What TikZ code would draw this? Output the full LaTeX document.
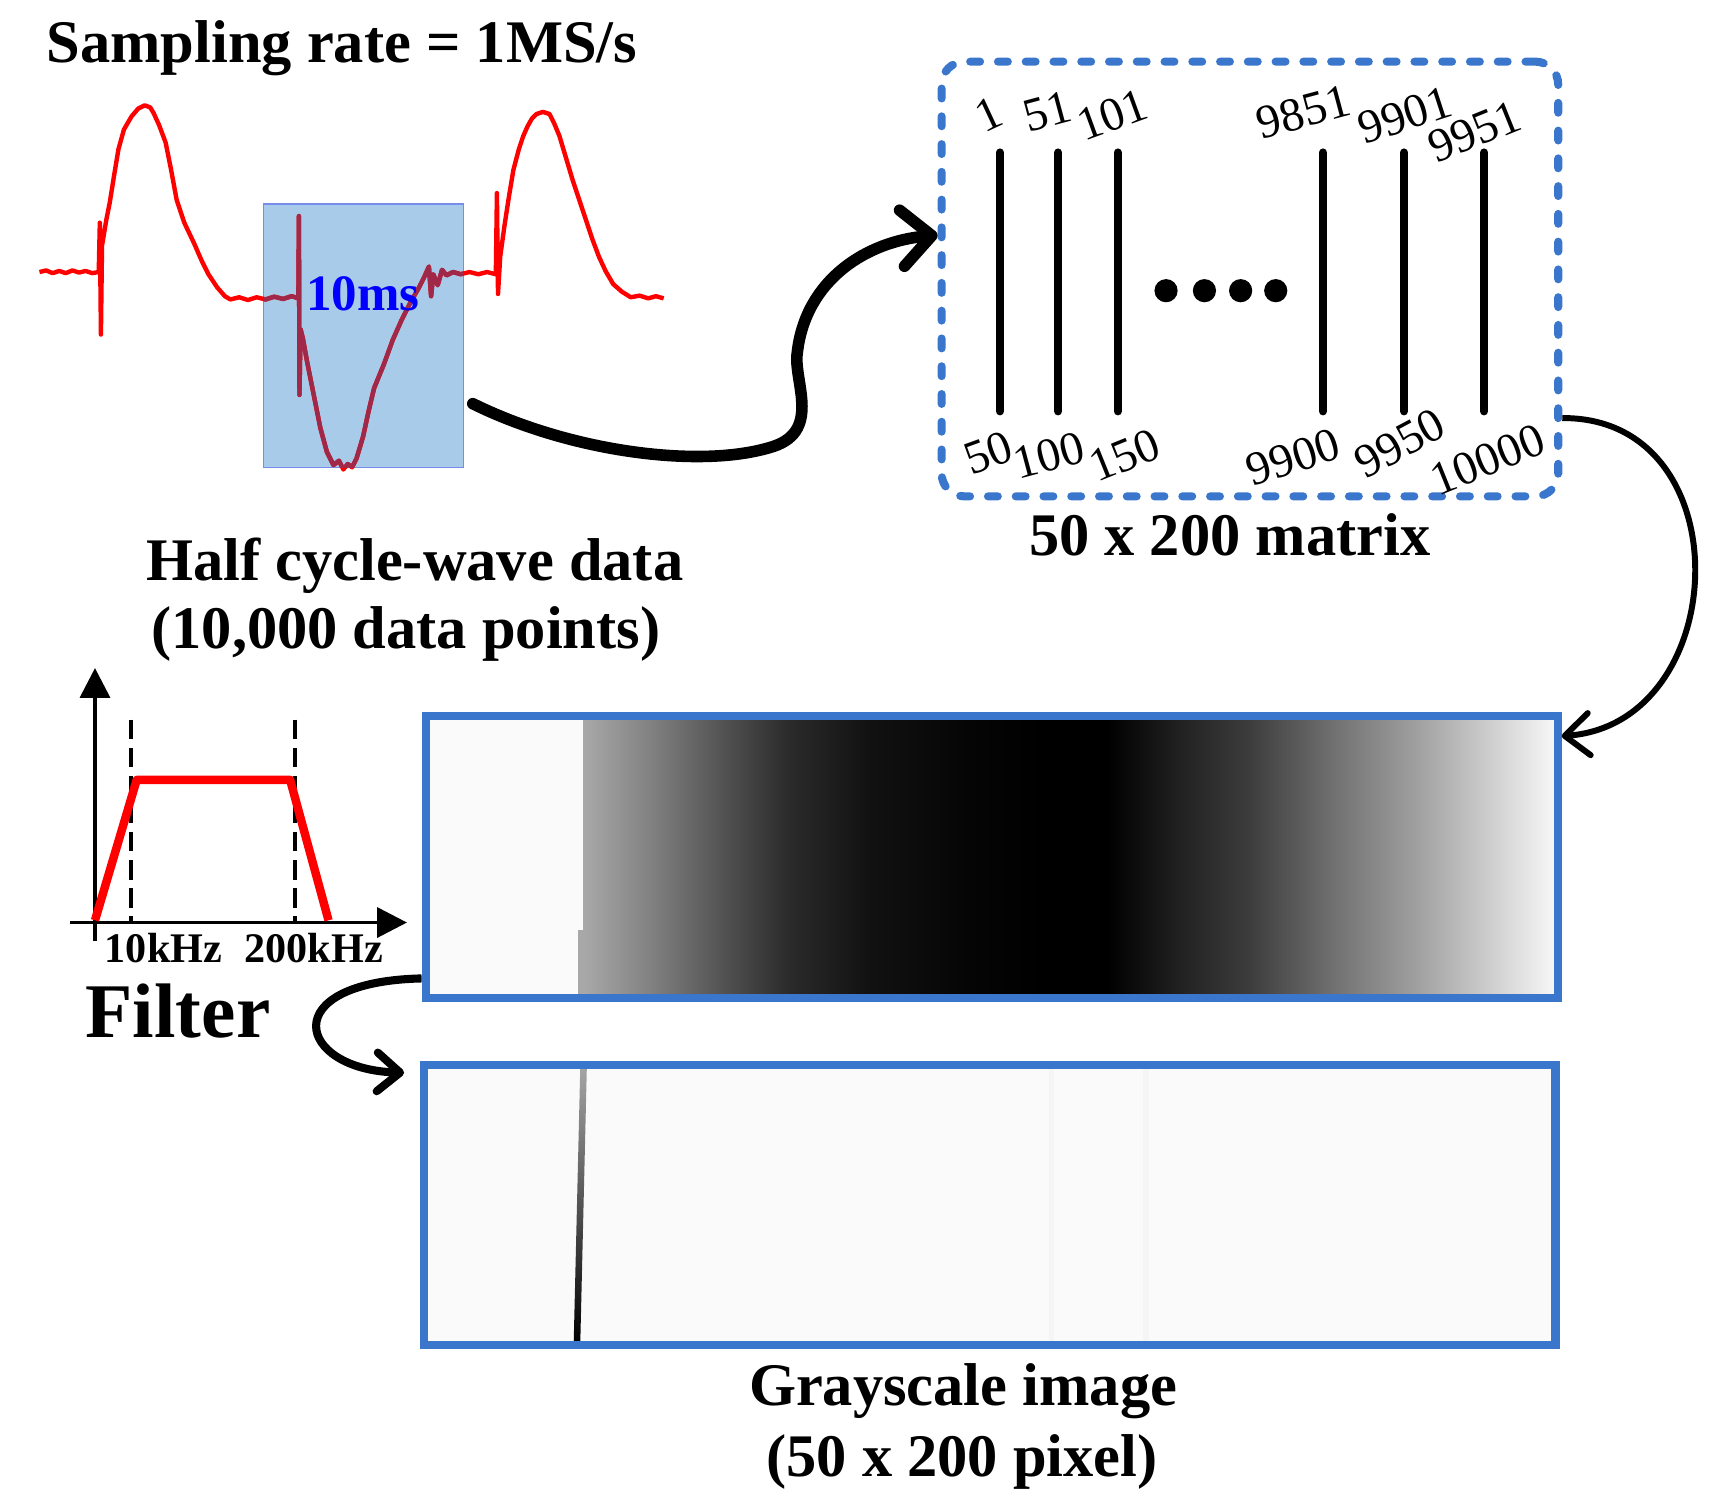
\documentclass[tikz,border=0pt]{standalone}
\usepackage{fontspec}
\setmainfont{Liberation Serif}
\usetikzlibrary{arrows.meta,fit}
\definecolor{boxblue}{RGB}{58,118,204}
\definecolor{winblue}{RGB}{167,203,233}
\definecolor{winedge}{RGB}{120,140,235}
\definecolor{darkwave}{RGB}{160,40,72}
\newcommand{\wavepts}{(36,248) -- (42,246.5) -- (48,249) -- (54,247) -- (60,249) -- (66,246.5) -- (72,248.5) -- (78,247) -- (84,249) -- (90,248) -- (91,203) -- (92,305) -- (93,224) -- (97,200) -- (100,185) -- (104,160) -- (108,136) -- (113,118) -- (120,106) -- (126,99) -- (132,96) -- (137,98) -- (140,103) -- (145,114) -- (151,130) -- (156,155) -- (161,182) -- (168,203) -- (177,222) -- (184,238) -- (190,250) -- (198,262) -- (205,270) -- (210,273) -- (218,271) -- (226,273.5) -- (234,271) -- (242,273) -- (250,270.5) -- (258,272.5) -- (266,270) -- (272,272) -- (272.5,197) -- (273,360) -- (274,300) -- (276,308) -- (280,330) -- (286,360) -- (292,390) -- (298,412) -- (304,424) -- (309,420) -- (313,428) -- (317,423) -- (321,426) -- (325,418) -- (331,398) -- (336,375) -- (341,354) -- (350,332) -- (358,310) -- (366,292) -- (374,276) -- (382,262) -- (387,252) -- (391,243) -- (393,270) -- (395,250) -- (399,260) -- (403,246) -- (407,251) -- (413,248) -- (420,250) -- (428,248) -- (436,250) -- (444,248) -- (452,250) -- (453,176) -- (454,268) -- (456,234) -- (460,205) -- (464,179) -- (468,155) -- (473,136) -- (477,124) -- (481,115) -- (485,108) -- (489,104) -- (495,102) -- (501,104) -- (505,112) -- (510,124) -- (516,144) -- (522,164) -- (528,182) -- (534,200) -- (540,218) -- (546,234) -- (552,247) -- (559,259) -- (567,266) -- (575,271) -- (583,269.5) -- (591,272) -- (598,270) -- (605,272)}

\begin{document}
\begin{tikzpicture}[x=0.10969mm,y=-0.10969mm,
  lbl/.style={font=\bfseries\fontsize{17.2}{20}\selectfont,inner sep=0pt},
  idx/.style={font=\fontsize{13.5}{14}\selectfont,inner sep=0pt},
  imgbox/.style={draw=boxblue,line width=2.3pt,inner sep=0pt},
  matrixbox/.style={draw=boxblue,line width=2.3pt,dash pattern=on 2.8pt off 5.1pt,line cap=round,rounded corners=6.5pt,inner sep=0pt},
  window/.style={fill=winblue,draw=winedge,line width=0.4pt,inner sep=0pt},
  wave/.style={red,line width=1.25pt,line join=round},
  col/.style={line width=2.3pt,line cap=round},
  axis/.style={line width=1.1pt,-{Triangle[length=8.5pt,width=8.5pt]}},
  cut/.style={line width=1.1pt,dash pattern=on 5.5pt off 2.5pt},
  band/.style={red,line width=2.4pt,line join=round}]
\useasboundingbox (0,0) rectangle (1568,1377);

\node[lbl,anchor=base west] (rate) at (42,57) {Sampling rate = 1MS/s};
\node[window,fit={(240,186) (422.5,426)}] (window) {};
\draw[wave] \wavepts;
\begin{scope}
\clip (240,186) rectangle (422.5,426);
\draw[wave,darkwave] \wavepts;
\end{scope}
\node[font=\bfseries\fontsize{14.5}{15}\selectfont,text=blue,inner sep=0pt,anchor=base] (dur) at (331,283) {10ms};
\node[lbl,anchor=base] (half) at (378,529) {Half cycle-wave data};
\node[lbl,anchor=base] (points) at (370,591) {(10,000 data points)};

\node[matrixbox,fit={(858.4,56.2) (1420.5,452.5)}] (matrix) {};
\foreach \x in {911.6,964.7,1019,1206,1280,1353}
  \draw[col] (\x,139) -- (\x,375);
\foreach \x in {1063,1098,1131,1163}
  \fill (\x,265) circle (3.3pt);
\foreach \p/\a/\n in {{(901,104)}/25/1,{(955,102)}/15/51,{(1014,105)}/20/101,{(1188,102)}/15/9851,{(1281,105)}/18/9901,{(1344,120)}/22/9951,
  {(901,413)}/20/50,{(956,415)}/15/100,{(1025,415)}/22/150,{(1179,417)}/18/9900,{(1276,404)}/28/9950,{(1356,419)}/22/10000}
  \node[idx,rotate=\a] (idx\n) at \p {\n};
\node[lbl,anchor=base] (size) at (1121,506) {50 x 200 matrix};

\fill[black!2] (390,655) rectangle (533,908);
\foreach \xa/\xb/\ga/\gb in {532/595/34/50,595/656/50/67,656/717/67/83,717/790/83/93,790/880/93/98,880/950/98/100,950/1010/100/100,
  1010/1070/100/88,1070/1140/88/76,1140/1215/76/56,1215/1292/56/37,1292/1370/37/16,1370/1417/16/3}
  \shade[left color=black!\ga,right color=black!\gb] (\xa,655) rectangle (\xb+0.6,908);
\fill[black!34] (527,848) rectangle (533,908);
\node[imgbox,fit={(388,653) (1420,910)}] (raw) {};

\fill[black!2] (388,972) rectangle (1416,1224);
\fill[black!4] (956,972) rectangle (961,1224);
\fill[black!4] (1042,972) rectangle (1047,1224);
\shade[top color=black!35,bottom color=black] (529,972) -- (535,972) -- (529,1224) -- (523,1224) -- cycle;
\node[imgbox,fit={(386.5,970.5) (1418,1226)}] (filtered) {};
\node[lbl,anchor=base] (gray) at (878,1281) {Grayscale image};
\node[lbl,anchor=base] (pixel) at (877,1346) {(50 x 200 pixel)};

\draw[axis] (86.6,858) -- (86.6,609);
\draw[axis] (64,841) -- (371,841);
\draw[cut] (119.5,656) -- (119.5,841);
\draw[cut] (269,656) -- (269,841);
\draw[band] (86.6,839) -- (124.6,711) -- (264.5,711) -- (299.5,839);
\node[font=\bfseries\fontsize{12}{12}\selectfont,inner sep=0pt,anchor=base] (low) at (149,877) {10kHz};
\node[font=\bfseries\fontsize{12}{12}\selectfont,inner sep=0pt,anchor=base] (high) at (286,877) {200kHz};
\node[font=\bfseries\fontsize{22}{24}\selectfont,inner sep=0pt,anchor=base west] (filter) at (77.5,945.5) {Filter};

\coordinate (wavetail) at (431,368);
\draw[line width=3.3pt,line cap=round,-{Straight Barb[length=8.5pt,width=16pt,round]}] (wavetail) .. controls (520,412) and (640,428) .. (705,407) .. controls (750,392) and (722,345) .. (727,320) .. controls (735,255) and (790,220) .. (matrix.172);
\draw[line width=1.7pt,-{Straight Barb[length=7pt,width=12pt,round]}] (matrix.-24) .. controls (1590,380) and (1580,660) .. (raw.12);
\draw[line width=2.3pt,shorten >=4.5pt,-{Straight Barb[length=6.5pt,width=11pt,round]}] (raw.192) .. controls (250,895) and (270,975) .. (filtered.167);
\end{tikzpicture}
\end{document}
